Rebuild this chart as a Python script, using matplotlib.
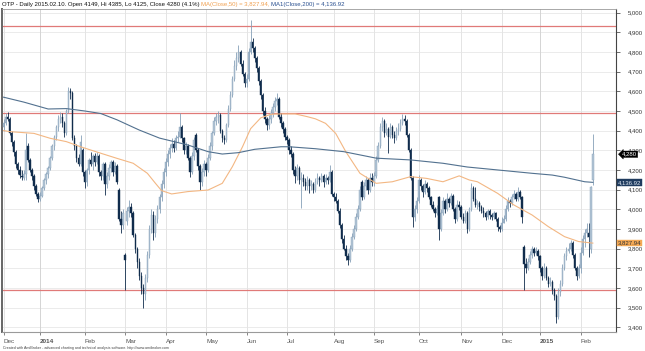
import matplotlib
matplotlib.use("Agg")
import matplotlib.pyplot as plt
from matplotlib.transforms import blended_transform_factory

# ---------------- data ----------------
opens = [4420,4440,4470,4460,4390,4340,4290,4230,4200,4170,4160,4180,4320,4250,4200,4170,4120,4080,
         4050,4070,4110,4150,4180,4210,4260,4320,4370,4420,4460,4470,4440,4390,4500,4600,4590,4360,4320,4260,4230,4300,
         4190,4140,4200,4250,4230,4270,4240,4270,4190,4170,4230,4130,4170,4210,4240,4190,4220,4100,3950,3920,
         3770,3940,3990,4010,3980,3870,3800,3730,3660,3600,3570,3650,3770,3900,3970,3880,3950,4000,4060,4130,
         4190,4240,4280,4310,4330,4310,4360,4370,4420,4360,4300,4320,4260,4190,4270,4380,4300,4220,4140,4190,
         4230,4200,4260,4320,4390,4450,4470,4480,4400,4360,4350,4430,4510,4580,4660,4730,4770,4800,4740,4690,
         4640,4660,4800,4850,4820,4770,4720,4650,4580,4500,4460,4430,4460,4490,4520,4550,4560,4470,4440,4410,
         4370,4350,4300,4280,4200,4170,4210,4150,4160,4140,4120,4150,4120,4130,4100,4140,4160,4150,4170,4140,4160,4150,4190,
         4080,4060,4040,3990,3920,3850,3800,3760,3740,3800,3860,3900,3960,4000,4140,4060,4120,4150,4100,4160,
         4140,4170,4250,4320,4420,4450,4390,4410,4370,4420,4380,4360,4400,4410,4440,4460,4450,4380,4300,4160,3960,4000,
         4040,4150,4120,4090,4130,4110,4060,4020,4000,3980,4064,3900,3980,4040,4000,4050,4030,4070,4000,3950,4020,
         4010,3960,3940,3980,3900,4000,4110,4050,4020,4030,4010,3990,3980,3960,3990,3970,3960,3980,3950,3910,
         3900,3930,3950,4000,4040,4030,4060,4080,4050,4090,4060,3810,3720,3700,3730,3770,3800,3780,3790,
         3760,3700,3660,3700,3650,3620,3630,3590,3560,3450,3580,3620,3700,3760,3790,3800,3830,3770,3700,3660,
         3700,3780,3850,3880,3880,3800,4149]
highs = [4460,4490,4495,4470,4400,4350,4300,4240,4220,4200,4200,4390,4335,4260,4210,4180,4130,4090,
         4090,4120,4160,4190,4220,4270,4330,4380,4430,4480,4495,4490,4450,4510,4624,4615,4600,4380,4330,4280,4378,4310,
         4200,4210,4260,4290,4280,4285,4293,4280,4200,4240,4240,4190,4230,4250,4250,4240,4230,4110,3990,4000,
         3780,4010,4047,4030,3990,3880,3810,3750,3680,3620,3670,3790,3920,4000,3990,3970,4020,4080,4150,4210,
         4260,4300,4330,4360,4350,4380,4400,4488,4430,4370,4340,4330,4270,4290,4370,4390,4310,4230,4210,4250,
         4240,4280,4340,4400,4470,4490,4500,4490,4410,4380,4440,4530,4600,4680,4760,4800,4835,4810,4760,4700,
         4690,4820,4962,4870,4830,4780,4730,4660,4590,4520,4470,4480,4510,4540,4573,4590,4570,4490,4450,4420,
         4380,4360,4320,4290,4220,4230,4220,4190,4180,4160,4170,4160,4150,4140,4160,4183,4170,4183,4180,4180,4170,4225,4200,
         4090,4081,4050,4005,3930,3870,3820,3780,3820,3880,3920,3980,4020,4120,4149,4140,4170,4160,4183,4183,
         4190,4270,4340,4440,4470,4460,4440,4420,4440,4430,4400,4420,4440,4460,4483,4480,4460,4390,4310,4170,4020,4060,
         4174,4160,4130,4149,4140,4120,4070,4040,4013,4020,4070,4000,4064,4050,4081,4060,4081,4080,4010,4047,4040,
         4020,3980,3997,3990,4010,4132,4120,4115,4047,4040,4020,4013,3990,4000,4000,3980,3990,3985,3960,3920,
         3963,3970,4020,4064,4050,4080,4098,4090,4115,4100,4070,3820,3750,3750,3790,3815,3810,3810,3800,
         3770,3710,3725,3710,3660,3657,3640,3600,3570,3600,3640,3720,3780,3810,3830,3844,3840,3780,3710,3720,
         3810,3870,3900,3929,3930,4120,4385]
lows = [4400,4430,4450,4380,4320,4270,4210,4180,4160,4150,4150,4150,4240,4190,4150,4100,4070,4035,
        4040,4060,4100,4130,4160,4200,4250,4300,4350,4400,4440,4420,4370,4380,4490,4560,4350,4300,4240,4220,4220,4170,
        4107,4120,4180,4220,4200,4220,4230,4170,4150,4150,4073,4110,4150,4190,4170,4180,4130,3940,3880,3900,
        3590,3920,3960,3960,3860,3780,3700,3640,3570,3497,3540,3630,3750,3880,3844,3860,3930,3980,4040,4110,
        4170,4220,4260,4290,4290,4300,4340,4360,4340,4280,4280,4250,4166,4180,4250,4290,4200,4098,4120,4170,
        4170,4190,4250,4300,4380,4430,4440,4390,4340,4330,4340,4420,4500,4570,4650,4710,4750,4730,4680,4624,
        4620,4650,4790,4800,4750,4700,4630,4560,4480,4440,4403,4410,4440,4470,4500,4530,4460,4420,4390,4352,
        4330,4280,4268,4180,4132,4150,4130,4005,4120,4100,4100,4081,4100,4081,4090,4130,4120,4140,4115,4130,4130,4140,4070,
        4040,4030,3980,3903,3830,3793,3740,3717,3730,3790,3850,3890,3950,3990,4047,4050,4100,4080,4090,4120,
        4120,4160,4240,4310,4400,4370,4380,4285,4360,4360,4335,4350,4380,4400,4430,4430,4370,4290,4149,3912,3940,3980,
        4030,4100,4064,4080,4090,4050,4010,3990,3963,3970,3844,3890,3970,3980,3990,4010,4020,3990,3930,3940,3997,
        3950,3929,3930,3878,3890,3990,4040,4013,4000,3990,3980,3960,3946,3950,3950,3946,3950,3940,3890,3886,
        3890,3929,3940,3990,4013,4020,4050,4040,4040,4050,3929,3590,3674,3690,3720,3750,3760,3770,3740,
        3680,3640,3650,3640,3607,3610,3570,3540,3420,3440,3560,3610,3690,3740,3776,3790,3750,3690,3640,3650,
        3674,3770,3810,3861,3759,3780,4125]
closes = [4440,4470,4460,4390,4340,4290,4230,4200,4175,4165,4180,4300,4250,4200,4170,4120,4080,4050,
          4070,4110,4150,4180,4210,4260,4320,4370,4420,4460,4470,4440,4390,4500,4600,4590,4360,4320,4260,4230,4340,4190,
          4140,4200,4250,4230,4270,4240,4270,4190,4170,4230,4130,4170,4210,4240,4190,4220,4140,3950,3920,3980,
          3740,3990,4010,3980,3870,3800,3730,3660,3600,3570,3650,3770,3900,3970,3880,3950,4000,4060,4130,4190,
          4240,4280,4310,4330,4310,4360,4370,4420,4360,4300,4320,4260,4190,4270,4350,4300,4220,4140,4190,4230,
          4200,4260,4320,4390,4450,4470,4480,4400,4360,4350,4430,4510,4580,4660,4730,4770,4800,4740,4690,4640,
          4660,4800,4850,4820,4770,4720,4650,4580,4500,4460,4430,4460,4490,4520,4550,4560,4470,4440,4410,4370,
          4350,4300,4280,4200,4170,4210,4150,4160,4140,4120,4150,4120,4130,4100,4140,4160,4150,4170,4140,4160,4150,4190,4080,
          4060,4040,3990,3920,3850,3800,3760,3740,3800,3860,3900,3960,4000,4100,4060,4120,4150,4100,4160,4140,
          4170,4250,4320,4420,4450,4390,4410,4370,4420,4380,4360,4400,4410,4440,4460,4450,4380,4300,4160,3960,4000,4040,
          4150,4120,4090,4130,4110,4060,4020,4000,3980,4000,3900,3980,4040,4000,4050,4030,4070,4000,3950,4020,4010,
          3960,3940,3980,3900,4000,4110,4050,4020,4030,4010,3990,3980,3960,3990,3970,3960,3980,3950,3910,3900,
          3930,3950,4000,4040,4030,4060,4080,4050,4090,4060,3960,3720,3700,3730,3770,3800,3780,3790,3760,
          3700,3660,3700,3650,3620,3630,3590,3560,3450,3580,3620,3700,3760,3790,3800,3830,3770,3700,3660,3700,
          3780,3850,3880,3900,3860,4111,4280]

# moving averages, read at selected bars
ma50_idx = [0,3,15,23,31,38,48,56,64,71,75,78,83,91,101,108,113,118,122,127,132,137,144,150,154,159,164,169,
            176,184,192,201,209,217,225,230,234,244,252,261,269,277,284,291]
ma50_val = [4400,4395,4386,4361,4344,4318,4285,4259,4234,4183,4132,4095,4078,4090,4098,4132,4217,4318,4410,4465,
            4483,4485,4485,4471,4460,4437,4386,4293,4183,4132,4140,4166,4157,4140,4170,4149,4140,4081,4022,3971,
            3912,3861,3836,3828]
ma200_idx = [0,10,22,31,40,48,56,67,77,91,101,108,116,124,137,141,154,168,184,201,217,229,244,261,271,277,287,291]
ma200_val = [4570,4545,4510,4512,4500,4487,4455,4403,4362,4327,4293,4281,4288,4305,4318,4318,4308,4293,4260,4251,
             4234,4215,4200,4183,4174,4163,4140,4137]

level_lines = [4934, 4490, 3590]
month_idx = [0,18,40,60,80,100,120,140,163,183,205,226,246,265,285]
month_lbl = ["Dec","2014","Feb","Mar","Apr","May","Jun","Jul","Aug","Sep","Oct","Nov","Dec","2015","Feb"]
y_ticks = list(range(3400, 5001, 100))

title_main = "OTP - Daily 2015.02.10. Open 4149, Hi 4385, Lo 4125, Close 4280 (4.1%) "
title_ma50 = "MA(Close,50) = 3,827.94, "
title_ma200 = "MA1(Close,200) = 4,136.92"
last_close = 4280
last_ma200 = 4136.92
last_ma50 = 3827.94

# ---------------- drawing ----------------
plt.rcParams['font.family'] = ['Liberation Sans', 'DejaVu Sans']
W, H = 645, 351
fig = plt.figure(figsize=(W/100, H/100), dpi=100)
ax = fig.add_axes([2/W, 1-332/H, (615.7-2)/W, (332-9)/H])
ax.set_xlim(-0.79, 302.3)
ax.set_ylim(3376, 5018.5)

UP_FILL = "#b3c5d6"
UP_EDGE = "#86a0b8"
DN_COL = "#102c4c"

# grid
for v in y_ticks:
    ax.axhline(v, color="#e8e8e8", lw=0.6, zorder=0)
for k, m in enumerate(month_idx):
    col = "#d4d4d4" if month_lbl[k] in ("2014", "2015") else "#e4e4e4"
    ax.axvline(m, color=col, lw=0.7, zorder=0)

for v in level_lines:
    ax.axhline(v, color="#e07a78", lw=0.9, zorder=1)

# candles
n = len(closes)
xs = list(range(n))
up_x, up_b, up_h = [], [], []
dn_x, dn_b, dn_h = [], [], []
for i in xs:
    o, c = opens[i], closes[i]
    if c >= o:
        up_x.append(i); up_b.append(o); up_h.append(max(c - o, 4))
    else:
        dn_x.append(i); dn_b.append(c); dn_h.append(max(o - c, 4))
ax.vlines(up_x, [lows[i] for i in up_x], [highs[i] for i in up_x], color=UP_EDGE, lw=0.6, zorder=2)
ax.vlines(dn_x, [lows[i] for i in dn_x], [highs[i] for i in dn_x], color=DN_COL, lw=0.6, zorder=2)
ax.bar(up_x, up_h, bottom=up_b, width=0.7, color=UP_FILL, edgecolor=UP_EDGE, linewidth=0.3, zorder=3)
ax.bar(dn_x, dn_h, bottom=dn_b, width=0.7, color=DN_COL, edgecolor=DN_COL, linewidth=0.3, zorder=3)

# moving averages
ax.plot(ma50_idx, ma50_val, color="#f3b783", lw=0.8, zorder=4)
ax.plot(ma200_idx, ma200_val, color="#52718f", lw=0.8, zorder=4)

# axes styling
ax.spines["left"].set_color("#666666"); ax.spines["left"].set_linewidth(1.4)
ax.spines["right"].set_color("#444444"); ax.spines["right"].set_linewidth(0.8)
ax.spines["top"].set_color("#9a9a9a"); ax.spines["top"].set_linewidth(0.6)
ax.spines["bottom"].set_color("#9a9a9a"); ax.spines["bottom"].set_linewidth(0.8)

ax.yaxis.tick_right()
ax.set_yticks(y_ticks)
ax.set_yticklabels([f"{v:,}" for v in y_ticks], fontsize=4.3, color="#333333")
ax.tick_params(axis="y", direction="out", length=3, width=0.5, pad=6, colors="#333333")

ax.set_xticks(month_idx)
ax.set_xticklabels(month_lbl, fontsize=4.6, ha="left", color="#222222")
for lbl in ax.get_xticklabels():
    if lbl.get_text() in ("2014", "2015"):
        lbl.set_fontweight("bold")
ax.tick_params(axis="x", direction="out", length=2.5, width=0.5, pad=2.5, colors="#555555")

# right-side value boxes
tr = blended_transform_factory(ax.transAxes, ax.transData)
ax.text(1.01, last_close, f"{last_close:,}", transform=tr, fontsize=4.3, color="white", va="center", ha="left",
        bbox=dict(boxstyle="larrow,pad=0.12", fc="black", ec="black", lw=0.3), zorder=6, clip_on=False)
ax.text(1.004, last_ma200, f"{last_ma200:,.2f}", transform=tr, fontsize=4.3, color="#dfe8f2", va="center", ha="left",
        bbox=dict(boxstyle="square,pad=0.12", fc="#1f3b5e", ec="#1f3b5e", lw=0.3), zorder=6, clip_on=False)
ax.text(1.004, last_ma50, f"{last_ma50:,.2f}", transform=tr, fontsize=4.3, color="#333333", va="center", ha="left",
        bbox=dict(boxstyle="square,pad=0.12", fc="#f4a955", ec="#f4a955", lw=0.3), zorder=6, clip_on=False)

# title (multi-coloured)
t1 = fig.text(2/W, 1-4.5/H, title_main, fontsize=4.35, color="#111111", va="center", ha="left")
t2 = ax.annotate(title_ma50, xy=(1, 0.5), xycoords=t1, va="center", ha="left", fontsize=4.35, color="#f0a050",
                 annotation_clip=False)
t3 = ax.annotate(title_ma200, xy=(1, 0.5), xycoords=t2, va="center", ha="left", fontsize=4.35, color="#2a5090",
                 annotation_clip=False)

fig.text(3/W, 1-348/H, "Created with AmiBroker - advanced charting and technical analysis software. http://www.amibroker.com",
         fontsize=2.6, color="#444444", va="center", ha="left")

fig.savefig("out.png", dpi=100)
